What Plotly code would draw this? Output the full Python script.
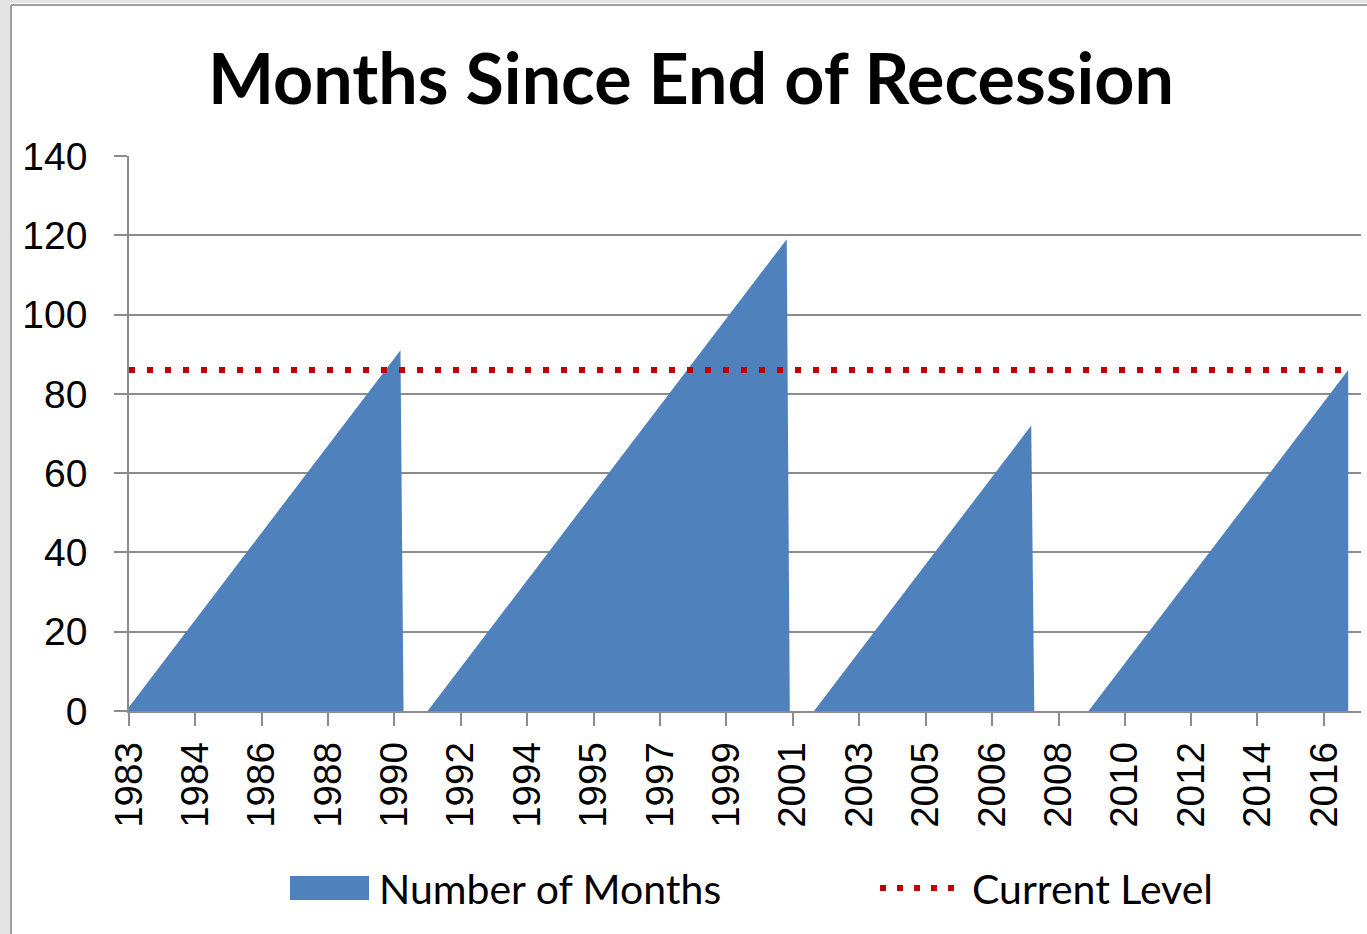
import plotly.graph_objects as go

# ---- data ----
months = ["1983-01-01", "1990-07-01", "1990-08-01", "1991-04-01", "2001-03-01",
          "2001-04-01", "2001-12-01", "2007-12-01", "2008-01-01", "2009-07-01",
          "2016-09-01"]
months_since = [1, 91, 0, 0, 119, 0, 0, 72, 0, 0, 86]
current_level = 86

tick_dates = ["1983-01-01", "1984-11-01", "1986-09-01", "1988-07-01", "1990-05-01",
              "1992-03-01", "1994-01-01", "1995-11-01", "1997-09-01", "1999-07-01",
              "2001-05-01", "2003-03-01", "2005-01-01", "2006-11-01", "2008-09-01",
              "2010-07-01", "2012-05-01", "2014-03-01", "2016-01-01"]
tick_labels = ["1983", "1984", "1986", "1988", "1990", "1992", "1994", "1995", "1997",
               "1999", "2001", "2003", "2005", "2006", "2008", "2010", "2012", "2014",
               "2016"]

title_text = "Months Since End of Recession"
series_names = ["Number of Months", "Current Level"]

BLUE = "#4F81BD"
RED = "#C00000"
GRID = "#8C8C8C"

W, H = 1367, 934
L, R, T, B = 129, 1361, 156, 711


def px(x):
    return (x - L) / (R - L)


def py(y):
    return (B - y) / (B - T)


fig = go.Figure()
fig.add_trace(go.Scatter(
    x=months, y=months_since, mode="lines", line=dict(width=0, color=BLUE),
    fill="tozeroy", fillcolor=BLUE, name=series_names[0], showlegend=False,
    hoverinfo="x+y"))
fig.add_trace(go.Scatter(
    x=[months[0], months[-1]], y=[current_level, current_level], mode="lines",
    line=dict(color=RED, width=6, dash="6px,12px"), name=series_names[1],
    showlegend=False))

shapes = []
# window frame
shapes.append(dict(type="rect", xref="paper", yref="paper", x0=px(0), x1=px(10),
                   y0=py(0), y1=py(H), fillcolor="#E4E4E4", line=dict(width=0), layer="above"))
shapes.append(dict(type="rect", xref="paper", yref="paper", x0=px(0), x1=px(W),
                   y0=py(0), y1=py(3), fillcolor="#E4E4E4", line=dict(width=0), layer="above"))
shapes.append(dict(type="line", xref="paper", yref="paper", x0=px(11), x1=px(11),
                   y0=py(5), y1=py(H), line=dict(color="#A0A0A0", width=2), layer="above"))
shapes.append(dict(type="line", xref="paper", yref="paper", x0=px(11), x1=px(W),
                   y0=py(5), y1=py(5), line=dict(color="#A0A0A0", width=2), layer="above"))
# legend symbols
shapes.append(dict(type="rect", xref="paper", yref="paper", x0=px(290), x1=px(369),
                   y0=py(900), y1=py(876), fillcolor=BLUE, line=dict(width=0)))
shapes.append(dict(type="line", xref="paper", yref="paper", x0=px(880), x1=px(962),
                   y0=py(888), y1=py(888), line=dict(color=RED, width=6, dash="6px,11px")))

annotations = [
    dict(text=series_names[0], xref="paper", yref="paper", x=px(377), y=py(888),
         xanchor="left", yanchor="middle", showarrow=False,
         font=dict(family="Lato", size=41, color="black")),
    dict(text=series_names[1], xref="paper", yref="paper", x=px(970), y=py(888),
         xanchor="left", yanchor="middle", showarrow=False,
         font=dict(family="Lato", size=41, color="black")),
]

fig.update_layout(
    width=W, height=H,
    margin=dict(l=L, r=W - R, t=T, b=H - B),
    paper_bgcolor="white", plot_bgcolor="white",
    title=dict(text="<b>" + title_text + "</b>", x=691 / W, xanchor="center",
               xref="container", y=1 - 79 / H, yref="container", yanchor="middle",
               font=dict(family="Lato", size=70, color="black")),
    shapes=shapes, annotations=annotations, showlegend=False,
    xaxis=dict(type="date", range=["1983-01-01", "2017-01-08"],
               tickmode="array", tickvals=tick_dates, ticktext=tick_labels,
               tickangle=-90, ticks="outside", ticklen=13, tickcolor=GRID, tickwidth=1.5,
               showline=True, linecolor=GRID, linewidth=1.5, showgrid=False,
               zeroline=False, ticklabelstandoff=1,
               tickfont=dict(family="Liberation Sans", size=38.5, color="black")),
    yaxis=dict(range=[0, 140], dtick=20, tick0=0, ticks="outside", ticklen=13,
               tickcolor=GRID, tickwidth=1.5, showline=True, linecolor=GRID,
               linewidth=1.5, showgrid=True, gridcolor=GRID, gridwidth=1.5,
               zeroline=False, ticklabelstandoff=19,
               tickfont=dict(family="Liberation Sans", size=39, color="black")),
)

fig.write_html("out.html", config={"displayModeBar": False},
               post_script="document.body.style.margin='0px';document.body.style.overflow='hidden';")
